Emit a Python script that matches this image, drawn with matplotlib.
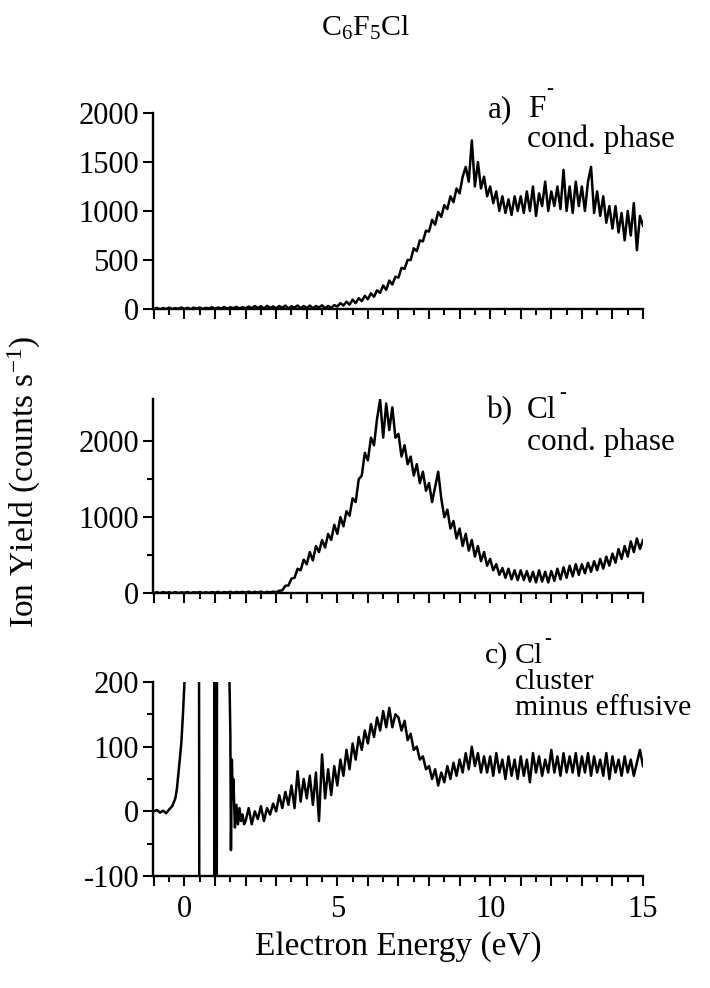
import numpy as np
import matplotlib
matplotlib.use("Agg")
import matplotlib.pyplot as plt
from matplotlib.ticker import FixedLocator, MultipleLocator, FuncFormatter

plt.rcParams['font.family'] = ['Liberation Serif', 'DejaVu Serif']
plt.rcParams['mathtext.fontset'] = 'custom'
plt.rcParams['mathtext.rm'] = 'Liberation Serif'
plt.rcParams['mathtext.it'] = 'Liberation Serif:italic'
plt.rcParams['axes.unicode_minus'] = False

#%% Data #####################################################################
# common energy grid, 0.1 eV steps from -1 to 15 eV
energy = np.round(np.arange(-1.0, 15.001, 0.1), 2)

# a) F- , condensed phase
yield_a = [
    0, 12, -4, 10, 0, 14, -2, 9, 3, 15,
    2, 12, -3, 14, 4, 16, 0, 12, 5, 18,
    3, 15, 6, 20, 2, 18, 8, 22, 5, 20,
    8, 25, 6, 30, 10, 28, 5, 32, 12, 26,
    8, 30, 12, 35, 5, 28, 14, 36, 8, 30,
    10, 35, 8, 30, 15, 38, 5, 32, 12, 40,
    25, 60, 35, 75, 45, 95, 60, 110, 80, 135,
    100, 160, 125, 190, 165, 240, 195, 290, 250, 330,
    320, 420, 410, 500, 500, 620, 590, 700, 690, 800,
    790, 910, 860, 990, 940, 1060, 1020, 1150, 1090, 1230,
    1180, 1350, 1450, 1300, 1720, 1250, 1500, 1230, 1350, 1150,
    1250, 1080, 1200, 1000, 1150, 980, 1120, 960, 1150, 1000,
    1150, 980, 1200, 1000, 1250, 950, 1180, 1050, 1300, 1000,
    1200, 1050, 1250, 1020, 1420, 1000, 1250, 980, 1300, 1050,
    1250, 1000, 1300, 1450, 980, 1200, 950, 1150, 880, 1050,
    820, 1050, 780, 980, 700, 1000, 750, 1080, 600, 950,
    850]

# b) Cl- , condensed phase
yield_b = [
    0, 10, -3, 12, 2, 10, -2, 12, 0, 8,
    3, 12, -2, 10, 4, 14, 0, 10, 2, 12,
    4, 15, 0, 12, 5, 16, 2, 14, 6, 15,
    5, 18, 2, 15, 6, 18, 3, 16, 8, 18,
    10, 30, 35, 95, 100, 190, 200, 320, 300, 440,
    380, 540, 430, 620, 540, 700, 600, 780, 700, 900,
    780, 1000, 880, 1080, 1020, 1250, 1200, 1500, 1550, 1850,
    1750, 2050, 1950, 2300, 2550, 2050, 2500, 2150, 2450, 2050,
    2100, 1800, 1950, 1700, 1800, 1550, 1700, 1450, 1600, 1350,
    1450, 1200, 1400, 1600, 1250, 1000, 1100, 850, 950, 720,
    850, 620, 780, 560, 700, 480, 620, 420, 540, 360,
    450, 300, 380, 240, 330, 200, 320, 180, 300, 170,
    300, 170, 290, 150, 280, 140, 300, 150, 280, 140,
    290, 160, 320, 180, 340, 200, 360, 220, 380, 240,
    380, 260, 400, 280, 420, 300, 450, 320, 480, 360,
    520, 400, 580, 450, 620, 480, 680, 540, 720, 580,
    700]

# c) Cl- , cluster minus effusive: low energy part read on a finer grid
energy_c_low = [-1.0, -0.9, -0.8, -0.7, -0.6, -0.5, -0.4, -0.35, -0.3, -0.25,
                -0.2, -0.15, -0.1, -0.05, 0.0, 0.05, 0.1, 0.2, 0.3, 0.4,
                0.47, 0.49, 0.51, 0.6, 0.7, 0.8, 0.9, 0.97, 0.99, 1.01,
                1.03, 1.05, 1.07, 1.1, 1.2, 1.3, 1.38, 1.4, 1.42, 1.45,
                1.48, 1.5, 1.52, 1.55, 1.58, 1.6, 1.65, 1.7, 1.75, 1.8,
                1.85, 1.9, 1.95]
yield_c_low = [0, 2, -2, 1, -3, 3, 8, 14, 20, 34,
               58, 82, 108, 150, 200, 260, 350, 500, 500, 500,
               500, -400, -400, -400, -400, -400, -400, -400, 500, -400,
               500, -400, 500, 500, 500, 500, 500, 300, 500, 250,
               180, 120, -60, 80, 20, 50, -25, 10, -20, 5,
               -15, -5, -20]
# from 2.0 eV on the common grid
yield_c_high = [
    -15, 5, -20, 0, -12, 8, -15, 5, -5, 12,
    0, 25, 5, 30, 10, 40, 5, 62, 15, 50,
    20, 55, 10, 60, -15, 88, 20, 65, 25, 70,
    40, 80, 55, 95, 65, 105, 80, 115, 95, 125,
    105, 135, 115, 145, 125, 155, 130, 160, 130, 150,
    145, 125, 140, 110, 120, 95, 100, 80, 85, 65,
    70, 50, 65, 40, 60, 45, 70, 50, 75, 55,
    80, 60, 90, 65, 100, 70, 90, 60, 85, 60,
    85, 55, 90, 60, 80, 50, 85, 55, 80, 50,
    85, 55, 80, 45, 90, 60, 85, 55, 80, 60,
    95, 60, 85, 55, 90, 60, 85, 60, 90, 55,
    85, 60, 90, 55, 85, 60, 80, 55, 90, 50,
    85, 60, 80, 55, 85, 60, 80, 55, 75, 95,
    70]

energy_c = np.concatenate([energy_c_low, energy[energy >= 1.999]])
yield_c = np.concatenate([yield_c_low, yield_c_high])

#%% Figure ###################################################################
W, H = 710, 988
fig = plt.figure(figsize=(W / 100, H / 100), dpi=100)

def px(x0, y0, x1, y1):
    """ pixel box (left, top, right, bottom) -> figure fraction rect """
    return [x0 / W, 1 - y1 / H, (x1 - x0) / W, (y1 - y0) / H]

FS = 22

def style(ax, ylim, major, minor, xlabels):
    ax.set_xlim(-1.03, 15.0)
    ax.set_ylim(*ylim)
    for s in ('top', 'right'):
        ax.spines[s].set_visible(False)
    for s in ('left', 'bottom'):
        ax.spines[s].set_linewidth(1.7)
    ax.xaxis.set_major_locator(FixedLocator(np.arange(-1, 16, 1)))
    ax.xaxis.set_minor_locator(MultipleLocator(0.5))
    if xlabels:
        ax.xaxis.set_major_formatter(FuncFormatter(
            lambda v, p: '%d' % v if int(round(v)) in (0, 5, 10, 15) else ''))
    else:
        ax.xaxis.set_major_formatter(FuncFormatter(lambda v, p: ''))
    ax.yaxis.set_major_locator(FixedLocator(major))
    ax.yaxis.set_minor_locator(FixedLocator(minor))
    ax.tick_params(which='major', direction='out', length=7, width=1.5,
                   labelsize=FS, pad=3)
    ax.tick_params(which='minor', direction='out', length=4, width=1.5)
    ax.tick_params(axis='x', which='major', pad=7)

ax_a = fig.add_axes(px(153, 113, 643, 309))
ax_a.plot(energy, yield_a, color='black', lw=1.8)
style(ax_a, (0, 2000), [0, 500, 1000, 1500, 2000], [], False)

ax_b = fig.add_axes(px(153, 399, 643, 593))
ax_b.plot(energy, yield_b, color='black', lw=1.8)
style(ax_b, (0, 2560), [0, 1000, 2000], [500, 1500], False)

ax_c = fig.add_axes(px(153, 682, 643, 876))
ax_c.plot(energy_c, yield_c, color='black', lw=1.8)
style(ax_c, (-100, 200), [-100, 0, 100, 200], [-50, 50, 150], True)

# labels
fig.text(365 / W, 1 - 36 / H, r'C$_6$F$_5$Cl', fontsize=21.5, ha='center',
         va='baseline')
fig.text(24 / W, 1 - 482 / H, r'Ion Yield (counts s$^{-1}$)', fontsize=24,
         rotation=90, ha='center', va='center')
fig.text(398 / W, 1 - 955 / H, 'Electron Energy (eV)', fontsize=24,
         ha='center', va='baseline')

def note(x, y, s, size=22.5):
    fig.text(x / W, 1 - y / H, s, fontsize=size, ha='left', va='baseline')

def charge(x, y):
    fig.text(x / W, 1 - y / H, '-', fontsize=15, ha='center', va='center')

note(488, 117, 'a)')
note(528, 117, 'F')
charge(550, 90)
note(527, 147, 'cond. phase')
note(487, 418, 'b)')
note(527, 418, 'Cl')
charge(563, 393)
note(527, 450, 'cond. phase')
note(485, 663, 'c)', 21.5)
note(515, 663, 'Cl', 21.5)
charge(548, 640)
note(515, 689, 'cluster', 21.5)
note(515, 715, 'minus effusive', 21.5)

fig.savefig('out.png', dpi=100)
